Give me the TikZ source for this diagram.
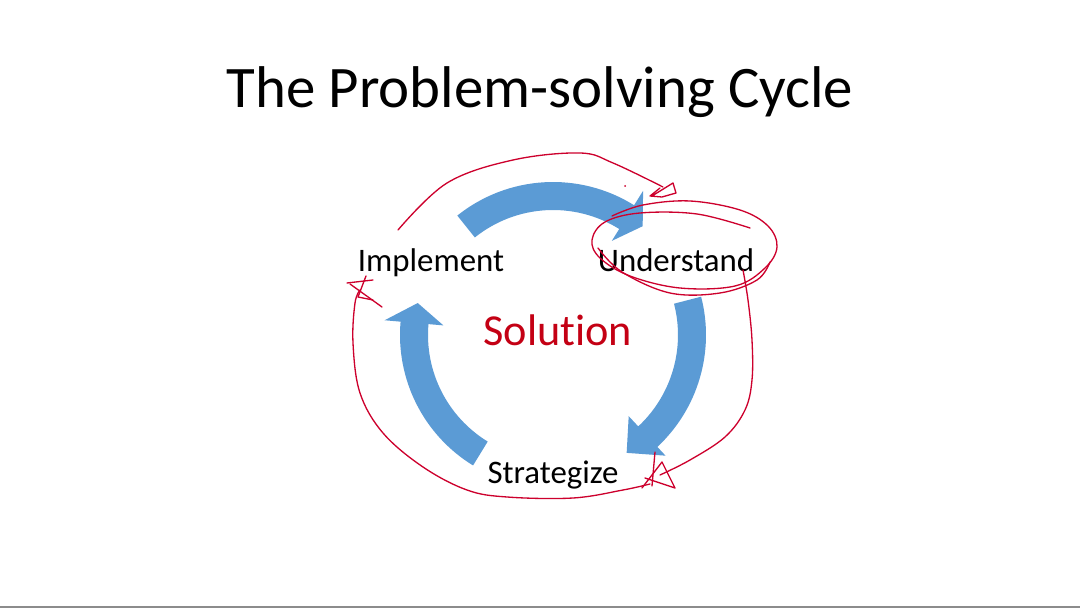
\documentclass[tikz,border=0pt]{standalone}
\usepackage{fontspec}
\setmainfont{Carlito}[Ligatures=NoCommon]
\definecolor{cycleblue}{RGB}{91,155,213}
\definecolor{solred}{RGB}{196,0,20}
\definecolor{penred}{RGB}{205,0,45}

\begin{document}
\begin{tikzpicture}[x=0.02cm, y=-0.02cm,
  stage/.style={black, anchor=base, inner sep=0pt, font=\fontsize{18.7}{22}\selectfont},
  cyc/.style={fill=cycleblue},
  pen/.style={penred, line width=0.75pt, line cap=round, line join=round}]
\useasboundingbox (0,0) rectangle (1080,608);
\fill[white] (0,0) rectangle (1080,608);
\fill[black!45] (0,605.5) rectangle (1080,608);

\node[black, anchor=base, inner sep=0pt, font=\fontsize{33.5}{40}\selectfont] (title) at (540,108) {The Problem-solving Cycle};

% the three stages and the centre
\node[stage] (implement) at (431,272) {Implement};
\node[stage] (understand) at (676,272) {Understand};
\node[stage] (strategize) at (553,483) {Strategize};
\node[solred, anchor=base, inner sep=0pt, font=\fontsize{25.2}{30}\selectfont] (solution) at (558,346) {Solution};

% blue cycle arrows
\begin{scope}[shift={(553,335)}]
\fill[cyc] (-128.7:153) arc[start angle=-128.7, end angle=-58, radius=153] -- (-58:170) -- (-50.5:141) -- (-58:111) -- (-58:125) arc[start angle=-58, end angle=-128.7, radius=125] -- cycle;
\fill[cyc] (-14.5:153) arc[start angle=-14.5, end angle=47, radius=153] -- (47:165) -- (58:139) -- (47:111) -- (47:125) arc[start angle=47, end angle=-14.5, radius=125] -- cycle;
\fill[cyc] (121.5:153) arc[start angle=121.5, end angle=185, radius=153] -- (185:169) -- (193.3:139) -- (185:110) -- (185:125) arc[start angle=185, end angle=121.5, radius=125] -- cycle;
\end{scope}

% red pen marks
\draw[pen] plot[smooth, tension=0.6] coordinates {(398,230) (447,183) (513,160) (580,153) (613,163) (663,187)};
\draw[pen] (652,196) -- (673,183) -- (676,193) -- (662,197) -- (650,196) -- (660,188);
\fill[penred] (625,186) circle (1);
\draw[pen] plot[smooth, tension=0.6] coordinates {(750,228) (697,214) (640,213) (605,222) (592,240) (600,258) (630,276) (680,288) (735,286) (765,268) (777,247) (768,226) (740,210) (690,201) (643,205) (612,216)};
\draw[pen] plot[smooth, tension=0.6] coordinates {(598,248) (622,272) (670,293) (720,293) (757,280) (770,262)};
\draw[pen] plot[smooth, tension=0.6] coordinates {(743,270) (748,300) (752,340) (752,380) (745,410) (725,437) (690,460) (660,475)};
\draw[pen] (655,452) -- (652,486);
\draw[pen] (642,488) -- (662,462) -- (675,488) -- (645,478);
\draw[pen] plot[smooth, tension=0.6] coordinates {(650,484) (623,490) (573,498) (507,497) (467,490) (423,467) (383,433) (360,393) (353,343) (355,303) (360,290)};
\draw[pen] (347,283) -- (373,280);
\draw[pen] (350,284) -- (382,307);
\draw[pen] (366,276) -- (358,297) -- (373,300);
\end{tikzpicture}
\end{document}
